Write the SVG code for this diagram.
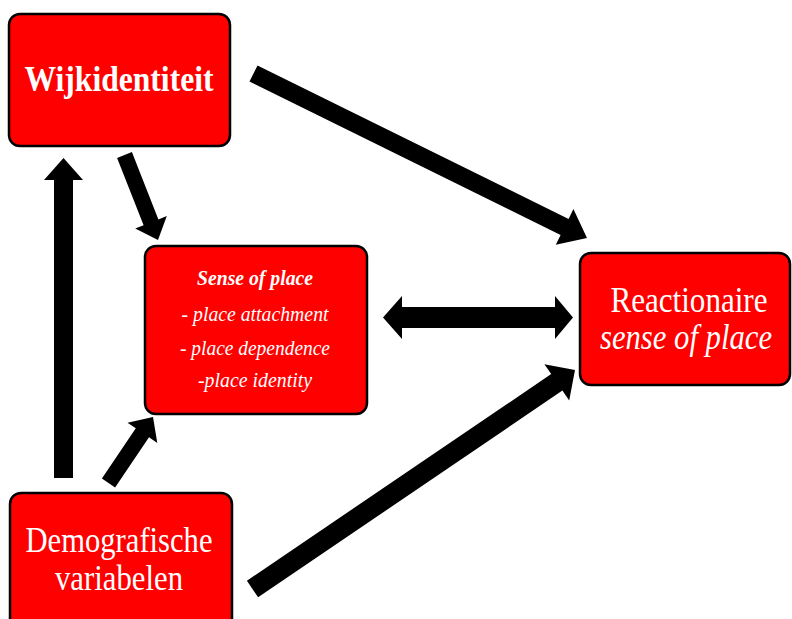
<svg xmlns="http://www.w3.org/2000/svg" width="792" height="619" viewBox="0 0 792 619">
<style>
.box{fill:#FF0000;stroke:#000;stroke-width:2.5}
.t{fill:#fff;font-family:"Liberation Serif","Times New Roman",serif;text-anchor:middle}
.s{font-size:22px;font-style:italic}
.arr{fill:#000}
</style>
<rect width="792" height="619" fill="#fff"/>
<g id="connectors">
<polygon class="arr" points="257.5,65.4 568.6,218.9 573.4,209 587,238 555.8,244.8 560.6,235 249.5,81.6"/>
<polygon class="arr" points="246.9,580.7 551.2,374.1 544.4,364.2 575,370 569.2,400.6 562.4,390.6 258.1,597.3"/>
<polygon class="arr" points="383,317.5 402,296 402,307 555,307 555,296 573,317.5 555,339 555,328 402,328 402,339"/>
<polygon class="arr" points="54,478 54,180 44,180 63.5,158 83,180 73,180 73,478"/>
<polygon class="arr" points="131.9,152.1 158.4,219.4 166.8,216.1 158,240 135.2,228.5 143.6,225.2 117.1,157.9"/>
<polygon class="arr" points="101.9,478.5 135.8,428.3 127.5,422.7 153,417 157.3,442.9 149,437.3 115.1,487.5"/>
</g>
<g id="wijkidentiteit">
<rect class="box" x="9" y="14" width="221" height="132" rx="11"/>
<text class="t" x="119" y="91" font-size="36" font-weight="bold" textLength="189" lengthAdjust="spacingAndGlyphs">Wijkidentiteit</text>
</g>
<g id="sense-of-place">
<rect class="box" x="145" y="246" width="222" height="168" rx="11"/>
<text class="t s" x="255" y="285" font-weight="bold" textLength="116" lengthAdjust="spacingAndGlyphs">Sense of place</text>
<text class="t s" x="255" y="321" textLength="147" lengthAdjust="spacingAndGlyphs">- place attachment</text>
<text class="t s" x="255" y="355" textLength="150" lengthAdjust="spacingAndGlyphs">- place dependence</text>
<text class="t s" x="255" y="387" textLength="114" lengthAdjust="spacingAndGlyphs">-place identity</text>
</g>
<g id="reactionaire">
<rect class="box" x="580" y="253" width="210" height="132" rx="11"/>
<text class="t" x="689" y="312" font-size="36" textLength="157" lengthAdjust="spacingAndGlyphs">Reactionaire</text>
<text class="t" x="686" y="349" font-size="35" font-style="italic" textLength="172" lengthAdjust="spacingAndGlyphs">sense of place</text>
</g>
<g id="demografische">
<rect class="box" x="10" y="493" width="222" height="140" rx="11"/>
<text class="t" x="119" y="552" font-size="36" textLength="187" lengthAdjust="spacingAndGlyphs">Demografische</text>
<text class="t" x="119" y="590" font-size="36" textLength="128" lengthAdjust="spacingAndGlyphs">variabelen</text>
</g>
</svg>
